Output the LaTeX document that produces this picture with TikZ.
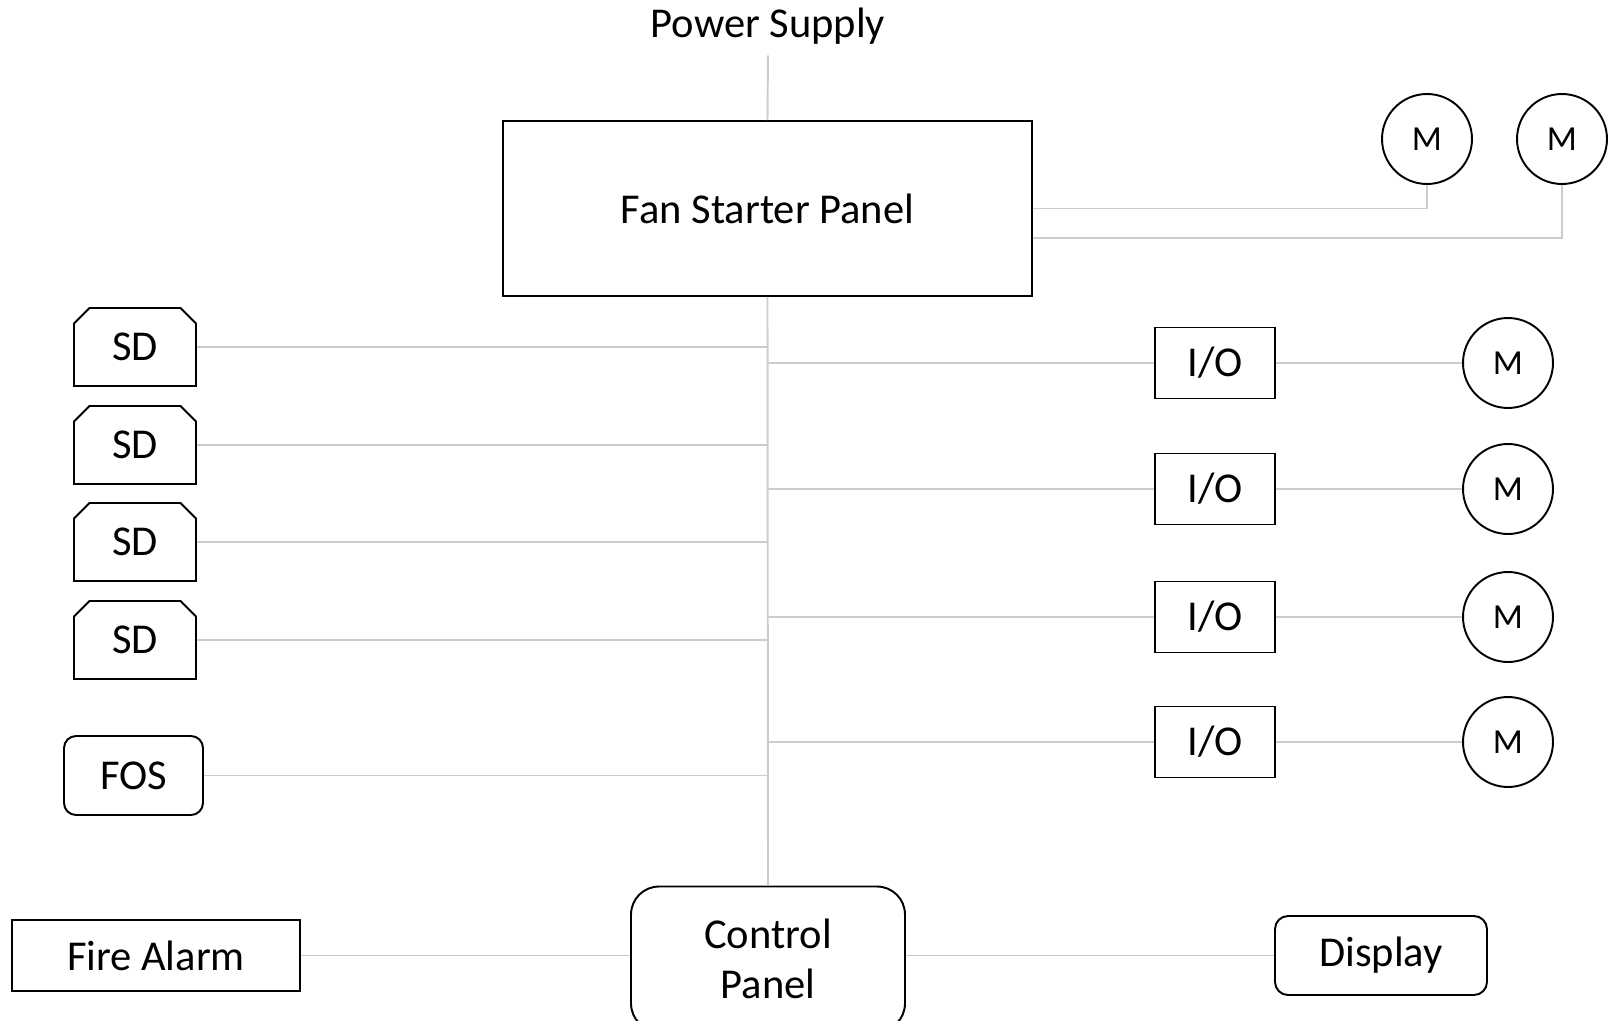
\documentclass[tikz,border=0pt]{standalone}
\usepackage{fontspec}
\setmainfont{Carlito}
\usetikzlibrary{shapes.misc}

\begin{document}
\begin{tikzpicture}[x=0.02cm, y=-0.02cm,
    every node/.style={font=\fontsize{24.2}{29}\selectfont},
    unit/.style={draw, line width=1.1pt, align=center},
    roundunit/.style={unit, rounded corners=0.26cm},
    sdunit/.style={unit, chamfered rectangle, chamfered rectangle corners={north west,north east},
        chamfered rectangle xsep=0.2cm, minimum width=2.44cm, minimum height=1.56cm},
    iounit/.style={unit, minimum width=2.4cm, minimum height=1.42cm},
    motor/.style={unit, circle, minimum size=1.8cm, inner sep=0pt, font=\fontsize{20}{24}\selectfont},
    wire/.style={draw=black!20, line width=1.1pt}]

    \useasboundingbox (0,0) rectangle (1614,1021);
    \clip (0,0) rectangle (1614,1021);

    %supply and starter panel:
    \node (ps) at (768,26) {Power Supply};
    \node[unit, minimum width=10.58cm, minimum height=3.5cm] (fsp) at (767.5,208.5) {Fan Starter Panel};
    \node[motor] (m1) at (1427,139) {M};
    \node[motor] (m2) at (1562,139) {M};

    %detectors:
    \node[sdunit] (sd1) at (135,347) {SD};
    \node[sdunit] (sd2) at (135,445) {SD};
    \node[sdunit] (sd3) at (135,542) {SD};
    \node[sdunit] (sd4) at (135,640) {SD};
    \node[roundunit, rounded corners=0.24cm, minimum width=2.78cm, minimum height=1.58cm] (fos) at (133.5,775.5) {FOS};

    %i/o modules and motors:
    \node[iounit] (io1) at (1215,363) {I/O};
    \node[iounit] (io2) at (1215,489) {I/O};
    \node[iounit] (io3) at (1215,617) {I/O};
    \node[iounit] (io4) at (1215,742) {I/O};
    \node[motor] (m3) at (1508,363) {M};
    \node[motor] (m4) at (1508,489) {M};
    \node[motor] (m5) at (1508,617) {M};
    \node[motor] (m6) at (1508,742) {M};

    %bottom row:
    \node[unit, minimum width=5.76cm, minimum height=1.42cm] (fa) at (156,955.5) {Fire Alarm};
    \node[roundunit, rounded corners=0.56cm, minimum width=5.48cm, minimum height=2.9cm] (cp) at (768,959) {Control\\[-0.5pt]Panel};
    \node[roundunit, minimum width=4.24cm, minimum height=1.58cm] (disp) at (1381,955.5) {Display};

    %draw wires:
    \coordinate (bus) at (fsp.south);
    \draw[wire, shorten <=0.1cm] (ps.south) -- (fsp.north);
    \draw[wire] (fsp.east) -| (m1.south);
    \draw[wire] ([yshift=-0.59cm]fsp.east) -| (m2.south);
    \draw[wire] (fsp.south) -- (cp.north);
    \draw[wire] (sd1.east) -- (sd1.east -| bus);
    \draw[wire] (sd2.east) -- (sd2.east -| bus);
    \draw[wire] (sd3.east) -- (sd3.east -| bus);
    \draw[wire] (sd4.east) -- (sd4.east -| bus);
    \draw[wire] (fos.east) -- (fos.east -| bus);
    \draw[wire] (io1 -| bus) -- (io1.west) (io1.east) -- (m3.west);
    \draw[wire] (io2 -| bus) -- (io2.west) (io2.east) -- (m4.west);
    \draw[wire] (io3 -| bus) -- (io3.west) (io3.east) -- (m5.west);
    \draw[wire] (io4 -| bus) -- (io4.west) (io4.east) -- (m6.west);
    \draw[wire] (fa.east) -- (fa.east -| cp.west);
    \draw[wire] (disp.west -| cp.east) -- (disp.west);

\end{tikzpicture}
\end{document}
